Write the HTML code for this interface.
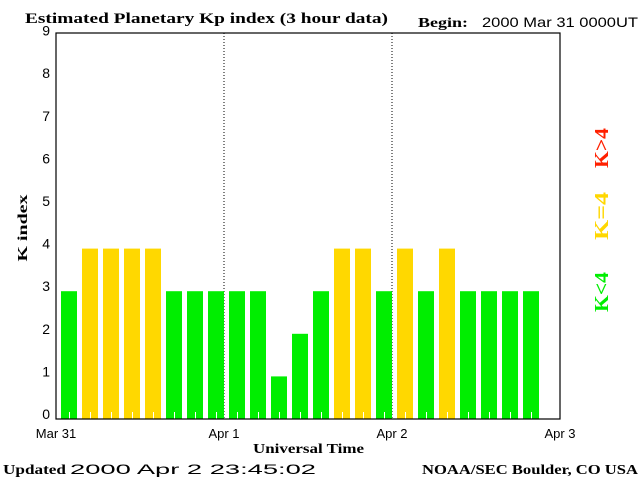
<!DOCTYPE html>
<html><head><meta charset="utf-8"><style>
body{margin:0;background:#fff}
svg{display:block}
text{font-family:"Liberation Sans",sans-serif;fill:#000}
.s{font-family:"Liberation Serif",serif;font-weight:bold}
</style></head><body>
<svg width="640" height="480">
<script>
const kValues=[3,4,4,4,4,3,3,3,3,3,1,2,3,4,4,3,4,3,4,3,3,3,3];
const yTicks=[0,1,2,3,4,5,6,7,8,9];
const dayLabels=["Mar 31","Apr 1","Apr 2","Apr 3"];
</script>
<text x="25" y="23" class="s" font-size="15" textLength="363" lengthAdjust="spacingAndGlyphs">Estimated Planetary Kp index (3 hour data)</text>
<text x="418" y="27" class="s" font-size="14" textLength="50" lengthAdjust="spacingAndGlyphs">Begin:</text>
<text x="482" y="27" font-size="14" textLength="156" lengthAdjust="spacingAndGlyphs">2000 Mar 31 0000UT</text>
<g id="plot"></g>
<rect x="56" y="33" width="504" height="386" fill="none" stroke="#000" stroke-width="1.2"/>
<text x="27" y="228" class="s" font-size="14" text-anchor="middle" textLength="67" lengthAdjust="spacingAndGlyphs" transform="rotate(-90 27 228)">K index</text>
<text x="253" y="453" class="s" font-size="14" textLength="111" lengthAdjust="spacingAndGlyphs">Universal Time</text>
<text x="3" y="474" class="s" font-size="14" textLength="63" lengthAdjust="spacingAndGlyphs">Updated</text>
<text x="70" y="474" font-size="14" textLength="246" lengthAdjust="spacingAndGlyphs">2000 Apr  2 23:45:02</text>
<text x="422" y="474" class="s" font-size="14" textLength="216" lengthAdjust="spacingAndGlyphs">NOAA/SEC Boulder, CO USA</text>
<text x="608" y="148" class="s" font-size="20" style="fill:#ff2000" text-anchor="middle" textLength="40" lengthAdjust="spacingAndGlyphs" transform="rotate(-90 608 148)">K&gt;4</text>
<text x="608" y="216" class="s" font-size="20" style="fill:#ffd700" text-anchor="middle" textLength="48" lengthAdjust="spacingAndGlyphs" transform="rotate(-90 608 216)">K=4</text>
<text x="608" y="292" class="s" font-size="20" style="fill:#00ee00" text-anchor="middle" textLength="40" lengthAdjust="spacingAndGlyphs" transform="rotate(-90 608 292)">K&lt;4</text>
<script>
(function(){
const NS="http://www.w3.org/2000/svg";
const g=document.getElementById('plot');
const x0=56,dayW=168,slot=21,y0=419,unit=42.6;
const yS=v=>y0-v*unit;
function mk(t,a){const e=document.createElementNS(NS,t);for(const k in a)e.setAttribute(k,a[k]);g.appendChild(e);return e;}
for(let d=1;d<3;d++){
 const l=mk('line',{x1:x0+d*dayW,x2:x0+d*dayW,y1:33,y2:419,stroke:'#000','stroke-dasharray':'1,2'});
 
 
}
kValues.forEach((v,i)=>{
 const col=v>4?'#ff2000':(v===4?'#ffd800':'#00ee00');
 const r=mk('rect',{x:x0+i*slot+5,y:yS(v),width:16,height:y0-yS(v),fill:col});
 
 
 const t=mk('line',{x1:x0+i*slot+13.5,x2:x0+i*slot+13.5,y1:y0-7,y2:y0,stroke:'#fff'});
 
 
});
yTicks.forEach(v=>{
 const t=mk('text',{x:50,y:yS(v)+0,'font-size':14,'text-anchor':'end'});
 t.textContent=v;
 
 
});
dayLabels.forEach((s,d)=>{
 const t=mk('text',{x:x0+d*dayW,y:438,'font-size':13,'text-anchor':'middle'});
 t.textContent=s;
 
 
});
})();
</script>
</svg>
</body></html>
